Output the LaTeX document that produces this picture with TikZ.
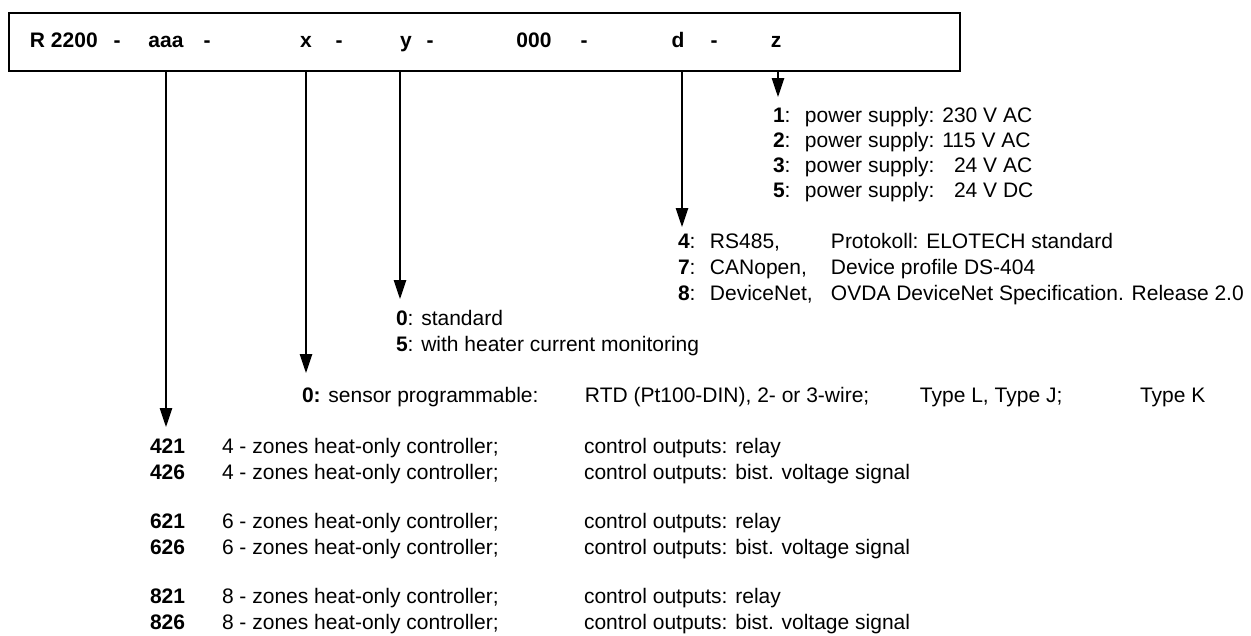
\documentclass[tikz,border=0pt]{standalone}
\usepackage{fontspec}
\setmainfont{Liberation Sans}
\usetikzlibrary{arrows.meta}
\newcommand\keyw[1]{\makebox[32pt][l]{\textbf{#1}:}}
\newcommand\rowtxt[3]{\makebox[72pt][l]{\textbf{#1}}\makebox[362pt][l]{#2 - zones heat-only controller;}control outputs: #3}
\begin{document}
\begin{tikzpicture}[x=1pt,y=-1pt,
  txt/.style={anchor=base west, inner sep=0pt, outer sep=0pt, font=\fontsize{21}{25}\selectfont},
  hdr/.style={anchor=base, inner sep=0pt, outer sep=0pt, font=\fontsize{21}{25}\selectfont\bfseries},
  arr/.style={line width=1.2pt, -{Triangle[length=19pt,width=12.5pt]}},
]
\useasboundingbox (0,0) rectangle (1251,635);
\node[draw, line width=1.5pt, minimum width=951pt, minimum height=58pt, anchor=north west, inner sep=0pt] (box) at (8,12) {};
% header
\node[hdr, anchor=base west] (hR) at (30,47) {R 2200};
\node[hdr] (d1) at (117,47) {-};
\node[hdr] (ha) at (166,47) {aaa};
\node[hdr] (d2) at (207,47) {-};
\node[hdr] (hx) at (306,47) {x};
\node[hdr] (d3) at (339,47) {-};
\node[hdr] (hy) at (406,47) {y};
\node[hdr] (d4) at (430,47) {-};
\node[hdr] (h0) at (534,47) {000};
\node[hdr] (d5) at (584,47) {-};
\node[hdr] (hd) at (678,47) {d};
\node[hdr] (d6) at (714,47) {-};
\node[hdr] (hz) at (776,47) {z};
% arrow tips
\coordinate (ta) at (166,427);
\coordinate (tx) at (306,373);
\coordinate (ty) at (400,299);
\coordinate (td) at (682,227);
\coordinate (tz) at (778,97);
\draw[arr] (box.south -| ta) -- (ta);
\draw[arr] (box.south -| tx) -- (tx);
\draw[arr] (box.south -| ty) -- (ty);
\draw[arr] (box.south -| td) -- (td);
\draw[arr] (box.south -| tz) -- (tz);
% z: power supply
\node[txt] (p1) at (773,122) {\keyw{1}power supply: 230 V AC};
\node[txt] (p2) at (773,147) {\keyw{2}power supply: 115 V AC};
\node[txt] (p3) at (773,172) {\keyw{3}power supply: \phantom{2}24 V AC};
\node[txt] (p5) at (773,197) {\keyw{5}power supply: \phantom{2}24 V DC};
% d: interface
\node[txt] (n4) at (678,248) {\keyw{4}\makebox[121pt][l]{RS485,}Protokoll: ELOTECH standard};
\node[txt] (n7) at (678,274) {\keyw{7}\makebox[121pt][l]{CANopen,}Device profile DS-404};
\node[txt] (n8) at (678,300) {\keyw{8}\makebox[121pt][l]{DeviceNet,}OVDA DeviceNet Specification. Release 2.0};
% y
\node[txt] (y0) at (396,325) {\textbf{0}: standard};
\node[txt] (y5) at (396,351) {\textbf{5}: with heater current monitoring};
% x
\node[txt] (x0) at (302,402) {\makebox[283pt][l]{\textbf{0:} sensor programmable:}\makebox[335pt][l]{RTD (Pt100-DIN), 2- or 3-wire;}\makebox[220pt][l]{Type L, Type J;}Type K};
% aaa
\node[txt] (r421) at (150,453) {\rowtxt{421}{4}{relay}};
\node[txt] (r426) at (150,479) {\rowtxt{426}{4}{bist. voltage signal}};
\node[txt] (r621) at (150,528) {\rowtxt{621}{6}{relay}};
\node[txt] (r626) at (150,554) {\rowtxt{626}{6}{bist. voltage signal}};
\node[txt] (r821) at (150,603) {\rowtxt{821}{8}{relay}};
\node[txt] (r826) at (150,629) {\rowtxt{826}{8}{bist. voltage signal}};
\end{tikzpicture}
\end{document}
